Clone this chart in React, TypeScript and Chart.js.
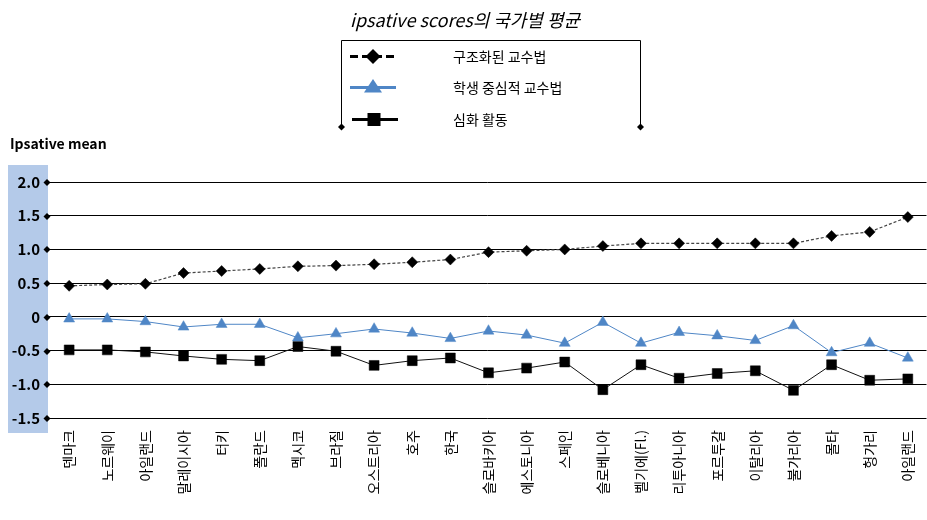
import React, { useEffect, useRef } from 'react';
import { Chart, registerables } from 'chart.js';

Chart.register(...registerables);

const FONT = '"Noto Sans CJK KR", "Noto Sans", sans-serif';

const chartTitle = 'ipsative scores의 국가별 평균';
const yAxisTitle = 'Ipsative mean';
const categories = [
  '덴마크', '노르웨이', '아일랜드', '말레이시아', '터키', '폴란드', '멕시코', '브라질',
  '오스트리아', '호주', '한국', '슬로바키아', '에스토니아', '스페인', '슬로베니아',
  '벨기에(Fl.)', '리투아니아', '포르투갈', '이탈리아', '불가리아', '몰타', '헝가리', '아일랜드',
];
const seriesNames = ['구조화된 교수법', '학생 중심적 교수법', '심화 활동'];
const structuredTeaching = [
  0.46, 0.48, 0.49, 0.65, 0.68, 0.71, 0.75, 0.76, 0.78, 0.81, 0.85, 0.96,
  0.98, 1.0, 1.05, 1.09, 1.09, 1.09, 1.09, 1.09, 1.2, 1.26, 1.48,
];
const studentCentered = [
  -0.03, -0.03, -0.07, -0.15, -0.11, -0.11, -0.31, -0.25, -0.18, -0.24, -0.32, -0.21,
  -0.27, -0.39, -0.08, -0.39, -0.23, -0.28, -0.35, -0.13, -0.53, -0.39, -0.61,
];
const enrichmentActivities = [
  -0.49, -0.49, -0.52, -0.58, -0.63, -0.65, -0.44, -0.51, -0.72, -0.65, -0.61, -0.83,
  -0.76, -0.67, -1.08, -0.71, -0.91, -0.84, -0.8, -1.09, -0.71, -0.94, -0.92,
];
const yTickValues = [-1.5, -1.0, -0.5, 0, 0.5, 1.0, 1.5, 2.0];

const BLUE = '#4F86C6';
const PANEL = '#B4CAE9';

function diamond(ctx: CanvasRenderingContext2D, x: number, y: number, r: number) {
  ctx.beginPath();
  ctx.moveTo(x - r, y);
  ctx.lineTo(x, y - r);
  ctx.lineTo(x + r, y);
  ctx.lineTo(x, y + r);
  ctx.closePath();
  ctx.fill();
}

const decorPlugin = {
  id: 'decor',
  beforeDraw(chart: any) {
    const { ctx, chartArea } = chart;
    ctx.save();
    ctx.fillStyle = PANEL;
    ctx.fillRect(8, chartArea.top - 17, chartArea.left - 8, chartArea.bottom - chartArea.top + 32);
    ctx.restore();
  },
  afterDraw(chart: any) {
    const { ctx, chartArea } = chart;
    const yScale = chart.scales.y;
    ctx.save();
    // y tick diamonds
    ctx.fillStyle = '#000';
    yTickValues.forEach((v) => {
      diamond(ctx, chartArea.left - 1, Math.round(yScale.getPixelForValue(v)) + 0.5, 3.5);
    });
    // title
    ctx.fillStyle = '#000';
    ctx.font = `italic 18px ${FONT}`;
    ctx.textAlign = 'center';
    ctx.textBaseline = 'middle';
    ctx.fillText(chartTitle, 465, 20);
    // y axis title
    ctx.font = `bold 14px ${FONT}`;
    ctx.textAlign = 'left';
    ctx.fillText(yAxisTitle, 10, 144);
    // legend box
    const bx0 = 341.5, bx1 = 640.5, by0 = 40.5, by1 = 127;
    ctx.strokeStyle = '#000';
    ctx.lineWidth = 1;
    ctx.setLineDash([]);
    ctx.beginPath();
    ctx.moveTo(bx0, by1);
    ctx.lineTo(bx0, by0);
    ctx.lineTo(bx1, by0);
    ctx.lineTo(bx1, by1);
    ctx.stroke();
    diamond(ctx, bx0, by1, 3.5);
    diamond(ctx, bx1, by1, 3.5);
    // legend entries
    const rows = [56.5, 87.5, 119.5];
    const lx0 = 350, lx1 = 396, lxc = 373;
    ctx.strokeStyle = '#000';
    ctx.lineWidth = 3;
    ctx.setLineDash([8, 4]);
    ctx.beginPath();
    ctx.moveTo(lx0, rows[0]);
    ctx.lineTo(lx1, rows[0]);
    ctx.stroke();
    ctx.setLineDash([]);
    ctx.fillStyle = '#000';
    diamond(ctx, lxc, rows[0], 7.5);
    ctx.strokeStyle = BLUE;
    ctx.beginPath();
    ctx.moveTo(lx0, rows[1]);
    ctx.lineTo(lx1, rows[1]);
    ctx.stroke();
    ctx.fillStyle = BLUE;
    ctx.beginPath();
    ctx.moveTo(lxc, rows[1] - 8.5);
    ctx.lineTo(lxc + 9, rows[1] + 5);
    ctx.lineTo(lxc - 9, rows[1] + 5);
    ctx.closePath();
    ctx.fill();
    ctx.strokeStyle = '#000';
    ctx.beginPath();
    ctx.moveTo(lx0 + 2, rows[2]);
    ctx.lineTo(lx1 + 2, rows[2]);
    ctx.stroke();
    ctx.fillStyle = '#000';
    ctx.fillRect(lxc - 5.5, rows[2] - 6.5, 13, 13);
    ctx.fillStyle = '#000';
    ctx.font = `14px ${FONT}`;
    ctx.textAlign = 'left';
    ctx.textBaseline = 'middle';
    seriesNames.forEach((n, i) => ctx.fillText(n, 453, rows[i]));
    ctx.restore();
  },
};

export default function App() {
  const ref = useRef<HTMLCanvasElement | null>(null);
  useEffect(() => {
    if (!ref.current) return;
    const toPts = (arr: number[]) => arr.map((v, i) => ({ x: i, y: v }));
    const chart = new Chart(ref.current, {
      type: 'line',
      data: {
        datasets: [
          {
            label: seriesNames[0],
            data: toPts(structuredTeaching),
            borderColor: '#444',
            borderWidth: 1.2,
            borderDash: [3, 2],
            pointStyle: 'rectRot',
            pointRadius: 5.5,
            pointBackgroundColor: '#000',
            pointBorderColor: '#000',
            pointBorderWidth: 0.5,
            tension: 0,
          },
          {
            label: seriesNames[1],
            data: toPts(studentCentered),
            borderColor: BLUE,
            borderWidth: 1,
            pointStyle: 'triangle',
            pointRadius: 6.3,
            pointBackgroundColor: BLUE,
            pointBorderColor: BLUE,
            pointBorderWidth: 0.5,
            tension: 0,
          },
          {
            label: seriesNames[2],
            data: toPts(enrichmentActivities),
            borderColor: '#111',
            borderWidth: 1,
            pointStyle: 'rect',
            pointRadius: 7,
            pointBackgroundColor: '#000',
            pointBorderColor: '#000',
            pointBorderWidth: 0.5,
            tension: 0,
          },
        ],
      },
      options: {
        responsive: false,
        animation: false,
        events: [],
        layout: { padding: { top: 182, right: 1, left: 0, bottom: 0 } },
        plugins: {
          legend: { display: false },
          title: { display: false },
          tooltip: { enabled: false },
        },
        scales: {
          x: {
            type: 'linear',
            min: -0.555,
            max: 22.49,
            afterBuildTicks: (scale: any) => {
              scale.ticks = categories.map((_, i) => ({ value: i }));
            },
            afterFit: (scale: any) => {
              scale.height = 102;
              scale.paddingLeft = 0;
              scale.paddingRight = 0;
            },
            grid: { display: false, drawTicks: false },
            border: { display: false },
            ticks: {
              autoSkip: false,
              minRotation: 90,
              maxRotation: 90,
              padding: 12,
              color: '#000',
              font: { family: FONT, size: 14 },
              callback: (v: any) => categories[v as number] ?? '',
            },
          },
          y: {
            type: 'linear',
            min: -1.5,
            max: 2.0,
            afterBuildTicks: (scale: any) => {
              scale.ticks = yTickValues.map((v) => ({ value: v }));
            },
            afterFit: (scale: any) => {
              scale.width = 48;
              scale.paddingTop = 0;
              scale.paddingBottom = 0;
            },
            grid: { color: '#000', lineWidth: 1, drawTicks: false },
            border: { display: false },
            ticks: {
              padding: 8,
              color: '#000',
              font: { family: FONT, size: 15, weight: 'bold' },
              callback: (v: any) => (v === 0 ? '0' : Number(v).toFixed(1)),
            },
          },
        },
      },
      plugins: [decorPlugin],
    } as any);
    return () => chart.destroy();
  }, []);
  return (
    <div
      style={{
        position: 'fixed',
        left: 0,
        top: 0,
        width: 927,
        height: 520,
        overflow: 'hidden',
        background: '#fff',
      }}
    >
      <canvas ref={ref} width={934} height={520} style={{ display: 'block' }} />
    </div>
  );
}
